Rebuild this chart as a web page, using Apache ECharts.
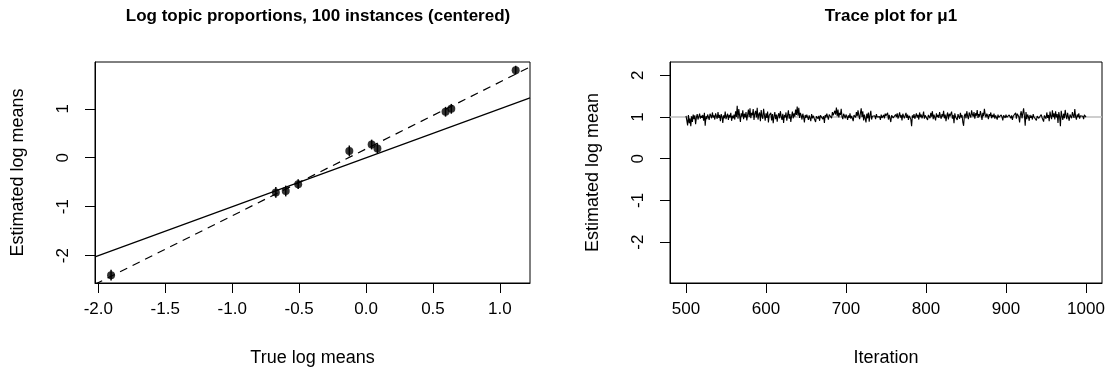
<!DOCTYPE html>
<html><head><meta charset="utf-8">
<script src="https://cdn.jsdelivr.net/npm/echarts@6/dist/echarts.min.js"></script>
<style>html,body{margin:0;padding:0;background:#fff}#c{width:1118px;height:376px}</style>
</head><body><div id="c"></div>
<script>
// Left panel: true vs estimated log means
const trueLogMeans = [-1.905, -0.674, -0.600, -0.507, -0.125, 0.042, 0.085, 0.594, 0.637, 1.118];
const estLogMeans  = [-2.40, -0.71, -0.68, -0.54, 0.14, 0.27, 0.19, 0.94, 1.00, 1.79];
const estErr       = [0.11, 0.11, 0.11, 0.10, 0.11, 0.10, 0.10, 0.10, 0.10, 0.09];
const identityLine = [[-2.025, -2.025], [1.225, 1.225]];
const fitLine      = [[-2.025, -2.587], [1.225, 1.855]];
const leftXTicks = [-2.0, -1.5, -1.0, -0.5, 0.0, 0.5, 1.0];
const leftYTicks = [-2, -1, 0, 1];

// Right panel: trace of mu1
const traceStart = 500;
const traceValues = [
1.03,0.92,0.80,1.05,0.85,0.97,0.78,1.02,0.88,1.06,0.95,1.04,0.83,0.99,1.07,0.94,1.01,1.08,0.96,1.03,
0.98,1.05,0.91,1.10,0.79,1.02,0.95,1.06,1.00,0.93,1.08,1.03,0.97,1.11,0.99,1.04,0.94,1.09,1.02,0.96,
1.12,0.98,1.05,0.90,1.07,1.01,0.86,1.04,0.97,1.13,0.95,1.02,1.08,0.93,1.05,0.99,1.10,0.91,1.03,0.97,
1.06,0.94,1.14,1.00,1.27,0.96,1.19,1.03,0.88,1.09,1.01,1.16,0.95,1.08,0.99,1.12,0.92,1.05,1.18,1.00,
1.21,0.97,1.10,1.04,1.19,0.93,1.08,1.15,0.99,1.22,0.94,1.06,1.11,0.90,1.17,1.02,0.96,1.20,1.05,0.91,
1.09,0.98,1.13,0.87,1.04,1.00,1.10,0.92,1.07,0.85,1.02,1.12,0.95,1.06,0.89,1.03,1.09,0.97,1.14,1.01,
0.93,1.08,0.86,1.05,0.99,1.11,0.91,1.04,1.16,0.96,1.07,0.88,1.02,1.13,0.97,1.09,1.01,1.18,1.05,1.25,
1.03,1.22,0.98,1.10,1.04,0.94,1.08,1.00,0.87,1.05,0.98,1.06,1.02,0.93,1.04,1.01,0.90,1.07,0.97,1.03,
0.99,1.05,0.88,1.02,1.06,0.96,1.03,0.91,1.04,1.00,1.07,0.95,1.02,0.86,1.05,0.99,1.08,1.01,0.94,1.06,
1.03,1.09,0.97,1.12,1.04,1.00,1.15,1.06,1.23,1.02,1.18,0.99,1.10,1.05,1.20,1.01,0.95,1.08,1.03,0.97,
1.06,1.01,0.93,1.04,0.98,1.09,0.96,1.03,1.00,0.90,1.05,1.07,0.99,1.12,1.02,1.16,1.04,0.95,1.09,1.21,
1.00,1.14,0.92,1.06,1.03,0.87,1.08,0.97,1.11,0.89,1.04,1.15,0.94,1.02,1.06,0.99,1.03,0.95,1.07,1.00,
0.96,1.04,1.01,0.93,1.06,0.98,1.02,1.05,0.97,1.08,1.03,0.99,1.10,0.94,1.05,1.01,0.88,1.04,1.07,0.98,
1.02,0.95,1.06,1.00,1.09,0.96,1.03,1.11,0.99,1.05,0.92,1.08,1.02,0.97,1.04,1.10,0.98,1.06,0.93,1.03,
1.01,0.95,0.78,1.04,0.98,1.07,0.96,1.02,1.09,0.99,1.05,0.94,1.11,1.00,1.06,0.97,1.03,1.13,0.96,1.04,
1.00,1.08,0.93,1.05,1.02,0.97,1.10,1.01,1.14,0.95,1.06,1.03,0.92,1.09,1.00,1.05,0.98,1.12,1.02,0.96,
1.07,1.01,1.15,0.97,1.06,0.90,1.03,1.11,0.94,1.08,1.02,0.98,1.13,0.96,1.05,0.85,1.09,1.00,1.04,0.93,
1.07,1.01,0.96,1.10,0.99,1.05,0.88,0.79,1.03,1.08,0.97,1.14,1.02,0.95,1.11,1.04,0.99,1.16,1.06,1.01,
1.12,0.96,1.09,1.03,1.17,0.98,1.07,1.01,1.14,1.05,0.93,1.10,1.02,1.20,1.06,0.99,1.08,1.03,0.95,1.07,
1.02,1.11,0.97,1.05,1.00,1.08,0.96,1.04,1.01,0.94,1.06,0.99,1.03,0.97,1.05,1.00,0.92,1.04,1.02,0.98,
1.06,0.99,1.03,0.95,1.05,1.01,0.97,1.04,0.93,1.02,1.06,0.98,1.10,0.96,1.08,1.12,1.01,0.87,1.06,1.14,
0.97,1.09,1.21,1.03,0.79,1.12,0.95,1.06,1.01,0.91,1.05,0.98,1.03,0.94,1.07,1.00,0.96,1.04,0.92,1.02,
1.05,0.97,1.01,0.93,1.06,0.99,1.03,0.89,1.04,1.08,0.96,1.11,0.98,1.05,0.90,1.13,1.02,0.95,1.16,1.00,
1.09,0.94,1.14,0.99,1.07,0.86,1.12,1.01,0.78,1.15,1.03,0.93,1.08,0.97,1.17,1.04,0.95,1.10,1.00,0.91,
1.06,1.02,0.97,1.12,1.04,0.98,1.19,1.01,0.94,1.06,1.00,1.09,0.96,1.03,0.99,1.07,1.02,0.95,1.05,1.01,
1.00
];
const trueMu1 = 1.0;
const rightXTicks = [500, 600, 700, 800, 900, 1000];
const rightYTicks = [-2, -1, 0, 1, 2];

const FONT = 'Liberation Sans, Arial, sans-serif';
const TICK_FS = 17, NAME_FS = 18, TITLE_FS = 17;
const traceData = traceValues.map((v, i) => [traceStart + i, v]);
const pts = trueLogMeans.map((x, i) => [x, estLogMeans[i]]);
const errData = trueLogMeans.map((x, i) => [x, estLogMeans[i] - estErr[i], estLogMeans[i] + estErr[i]]);

function xAxisCfg(idx, min, max, ticks, name, fmt) {
  return {
    type: 'value', gridIndex: idx, min: min, max: max, name: name,
    nameLocation: 'middle', nameGap: 66,
    nameTextStyle: {fontFamily: FONT, fontSize: NAME_FS, color: '#000'},
    axisLine: {show: true, onZero: false, lineStyle: {color: '#000', width: 1}},
    axisTick: {show: true, length: 10, customValues: ticks, lineStyle: {color: '#000'}},
    axisLabel: {customValues: ticks, margin: 18, fontFamily: FONT, fontSize: TICK_FS, color: '#000', formatter: fmt},
    splitLine: {show: false}
  };
}
function yAxisCfg(idx, min, max, ticks, name) {
  return {
    type: 'value', gridIndex: idx, min: min, max: max, name: name,
    nameLocation: 'middle', nameGap: 68,
    nameTextStyle: {fontFamily: FONT, fontSize: NAME_FS, color: '#000'},
    axisLine: {show: true, onZero: false, lineStyle: {color: '#000', width: 1}},
    axisTick: {show: true, length: 10, customValues: ticks, lineStyle: {color: '#000'}},
    axisLabel: {customValues: ticks, margin: 23, rotate: 90, fontFamily: FONT, fontSize: TICK_FS, color: '#000',
      formatter: v => String(v)},
    splitLine: {show: false}
  };
}

const chart = echarts.init(document.getElementById('c'), null, {renderer: 'canvas'});
chart.setOption({
  animation: false,
  backgroundColor: '#fff',
  title: [
    {text: 'Log topic proportions, 100 instances (centered)', left: 313, top: 3, textAlign: 'center',
     textStyle: {fontFamily: FONT, fontSize: TITLE_FS, fontWeight: 'bold', color: '#000'}},
    {text: 'Trace plot for μ1', left: 886, top: 3, textAlign: 'center',
     textStyle: {fontFamily: FONT, fontSize: TITLE_FS, fontWeight: 'bold', color: '#000'}}
  ],
  grid: [
    {left: 95, top: 62, width: 435, height: 221, show: true, borderColor: '#000', borderWidth: 1, backgroundColor: 'transparent'},
    {left: 670, top: 62, width: 432, height: 221, show: true, borderColor: '#000', borderWidth: 1, backgroundColor: 'transparent'}
  ],
  xAxis: [
    xAxisCfg(0, -2.025, 1.225, leftXTicks, 'True log means', v => v.toFixed(1)),
    xAxisCfg(1, 480, 1020, rightXTicks, 'Iteration', v => String(v))
  ],
  yAxis: [
    yAxisCfg(0, -2.56, 1.957, leftYTicks, 'Estimated log means'),
    yAxisCfg(1, -2.98, 2.32, rightYTicks, 'Estimated log mean')
  ],
  series: [
    {type: 'line', xAxisIndex: 0, yAxisIndex: 0, data: identityLine, symbol: 'none', clip: true,
     lineStyle: {color: '#000', width: 1.2}},
    {type: 'line', xAxisIndex: 0, yAxisIndex: 0, data: fitLine, symbol: 'none', clip: true,
     lineStyle: {color: '#000', width: 1.2, type: [8, 6]}},
    {type: 'custom', xAxisIndex: 0, yAxisIndex: 0, data: errData,
     renderItem: function (params, api) {
       const lo = api.coord([api.value(0), api.value(1)]);
       const hi = api.coord([api.value(0), api.value(2)]);
       return {type: 'line', shape: {x1: lo[0], y1: lo[1], x2: hi[0], y2: hi[1]},
               style: {stroke: '#000', lineWidth: 1.5}};
     }},
    {type: 'scatter', xAxisIndex: 0, yAxisIndex: 0, data: pts, symbol: 'circle', symbolSize: 8,
     itemStyle: {color: '#000'}},
    {type: 'line', xAxisIndex: 1, yAxisIndex: 1, data: [[480, trueMu1], [1020, trueMu1]], symbol: 'none',
     lineStyle: {color: '#bebebe', width: 1.5}},
    {type: 'line', xAxisIndex: 1, yAxisIndex: 1, data: traceData, symbol: 'none',
     lineStyle: {color: '#000', width: 1.1}}
  ]
});
</script>
</body></html>
